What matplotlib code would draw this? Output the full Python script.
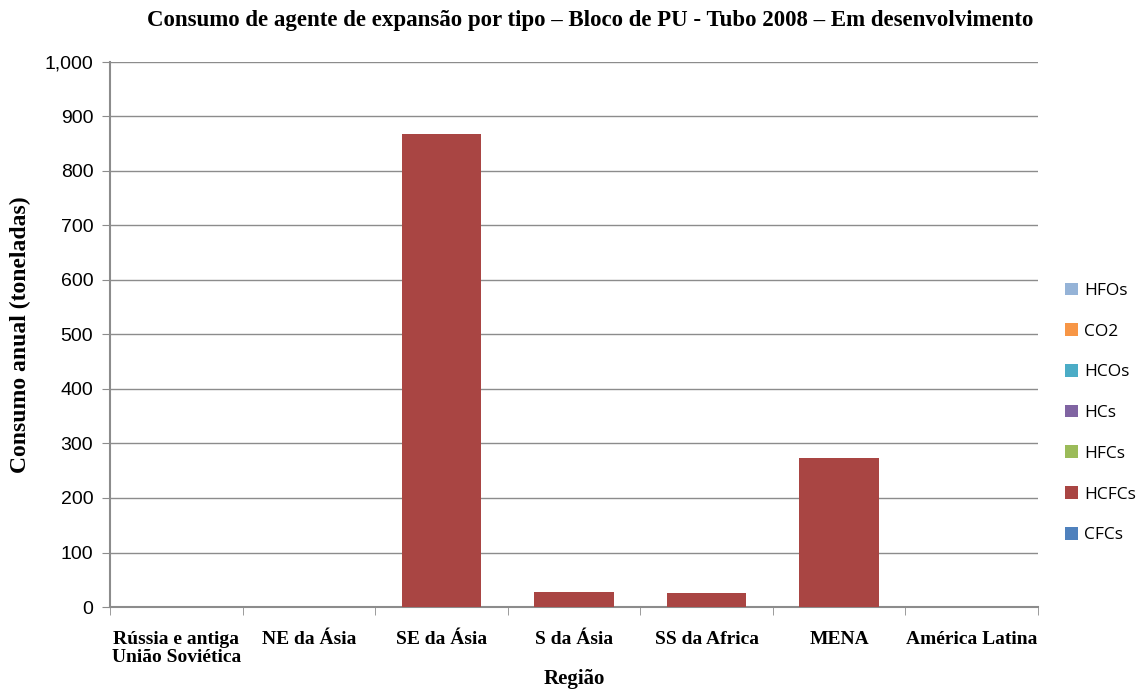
import numpy as np
import matplotlib
matplotlib.use('Agg')
import matplotlib.pyplot as plt

regions = ['Rússia e antiga\nUnião Soviética', 'NE da Ásia', 'SE da Ásia', 'S da Ásia',
           'SS da Africa', 'MENA', 'América Latina']
types = ['CFCs', 'HCFCs', 'HFCs', 'HCs', 'HCOs', 'CO2', 'HFOs']
cfcs = [0, 0, 0, 0, 0, 0, 0]
hcfcs = [0, 0, 868, 28, 26, 273, 0]
hfcs = [0, 0, 0, 0, 0, 0, 0]
hcs = [0, 0, 0, 0, 0, 0, 0]
hcos = [0, 0, 0, 0, 0, 0, 0]
co2 = [0, 0, 0, 0, 0, 0, 0]
hfos = [0, 0, 0, 0, 0, 0, 0]
series = [cfcs, hcfcs, hfcs, hcs, hcos, co2, hfos]
colors = ['#4F81BD', '#A94543', '#9BBB59', '#8064A2', '#4BACC6', '#F79646', '#95B3D7']

serif = ['Liberation Serif', 'DejaVu Serif']
fig = plt.figure(figsize=(11.39, 6.93), dpi=100)
ax = fig.add_axes([110 / 1139, 1 - 607 / 693, 928 / 1139, 545 / 693])

x = np.arange(len(regions))
bottom = np.zeros(len(regions))
handles = []
for name, vals, c in zip(types, series, colors):
    b = ax.bar(x, vals, width=0.6, bottom=bottom, color=c, label=name, zorder=3)
    bottom += np.array(vals)
    handles.append(b)

ax.set_xlim(-0.5, len(regions) - 0.5)
ax.set_ylim(0, 1000)
ax.set_yticks(range(0, 1001, 100))
ax.set_yticklabels([f'{v:,}' for v in range(0, 1001, 100)], fontsize=14,
                   family=['Liberation Sans'])
ax.yaxis.grid(True, color='#8c8c8c', linewidth=1, zorder=0)
ax.set_xticks(x)
ax.set_xticklabels(regions, fontsize=14, fontweight='bold', family=serif, va='top',
                   linespacing=1.1)
ax.set_xticks(np.arange(-0.5, len(regions), 1), minor=True)
ax.tick_params(axis='x', which='major', length=0, pad=17)
ax.tick_params(axis='x', which='minor', length=6, color='#8c8c8c')
ax.tick_params(axis='y', length=6, color='#8c8c8c', pad=6)
for s in ['top', 'right']:
    ax.spines[s].set_visible(False)
for s in ['left', 'bottom']:
    ax.spines[s].set_color('#8c8c8c')
    ax.spines[s].set_linewidth(1.5)

ax.set_ylabel('Consumo anual (toneladas)', fontsize=17, fontweight='bold', family=serif, labelpad=10)
ax.set_xlabel('Região', fontsize=15, fontweight='bold', family=serif, labelpad=2)
fig.suptitle('Consumo de agente de expansão por tipo – Bloco de PU - Tubo 2008 – Em desenvolvimento',
             fontsize=16.5, fontweight='bold', family=serif, x=0.518, y=0.985)

ax.legend(handles[::-1], types[::-1], loc='center left', bbox_to_anchor=(1.012, 0.356),
          frameon=False, prop={'family': 'Open Sans', 'size': 12.5},
          handlelength=0.75, handleheight=0.75, labelspacing=1.4, handletextpad=0.35)

fig.savefig('out.png', dpi=100, facecolor='white')
